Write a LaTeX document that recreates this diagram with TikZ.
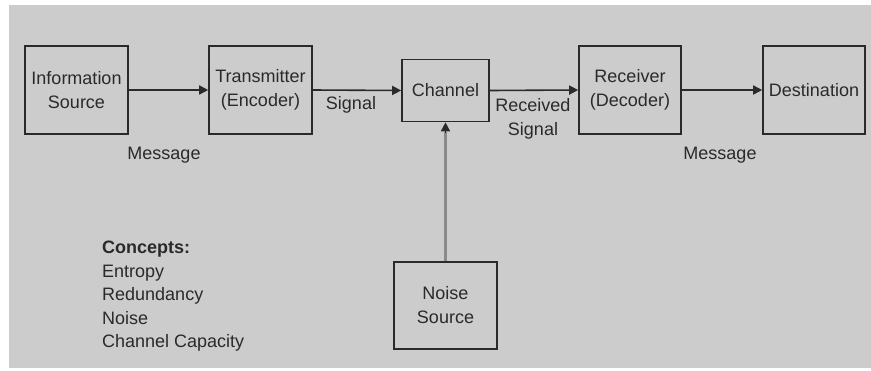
\documentclass[tikz,border=0pt]{standalone}
\usepackage{fontspec}
\setmainfont{Liberation Sans}
\usetikzlibrary{arrows.meta}
\definecolor{bggray}{HTML}{CCCCCC}
\definecolor{ink}{HTML}{2A2A2A}
\definecolor{noiseline}{HTML}{8A8A8A}
\begin{document}
\begin{tikzpicture}[x=1pt,y=-1pt,
  txt/.style={font=\fontsize{18}{24}\selectfont, text=ink, inner sep=0pt, align=center},
  blk/.style={txt, draw=ink, line width=1.6pt, minimum width=103pt, minimum height=88pt},
  conn/.style={draw=ink, line width=1.6pt, -{Triangle[length=9pt,width=9pt]}}
]
\useasboundingbox (0,0) rectangle (871,370);
\fill[bggray] (9,5) rectangle (871,368);

\node[blk] (info) at (76.5,90) {Information\\Source};
\node[blk] (trans) at (260.5,90) {Transmitter\\(Encoder)};
\node[blk, minimum width=87pt, minimum height=62pt] (chan) at (445.5,90.5) {Channel};
\node[blk, minimum width=102pt] (recv) at (630,90) {Receiver\\(Decoder)};
\node[blk, minimum width=102pt] (dest) at (814,90) {Destination};
\node[blk, minimum height=87pt] (noise) at (445.5,305.5) {Noise\\Source};

\draw[conn] (info.east) -- (trans.west);
\draw[conn] (trans.east) -- (chan.west);
\draw[conn] (chan.east) -- (recv.west);
\draw[conn] (recv.east) -- (dest.west);
\coordinate (nz) at ([yshift=-10pt]chan.south);
\draw[draw=noiseline, line width=3pt] (noise.north) -- (nz);
\draw[draw=ink, line width=1.6pt, -{Triangle[length=9pt,width=9pt]}] ([yshift=-11pt]chan.south) -- (chan.south);

\node[txt] (msg1) at (164,155) {Message};
\node[txt] (sig) at (351,105) {Signal};
\node[txt] (rsig) at (533,119) {Received\\Signal};
\node[txt] (msg2) at (720,155) {Message};

\node[txt, align=left, anchor=north west, font=\fontsize{18}{23.5}\selectfont] (concepts) at (102,241)
  {\textbf{Concepts:}\\Entropy\\Redundancy\\Noise\\Channel Capacity};
\end{tikzpicture}
\end{document}
